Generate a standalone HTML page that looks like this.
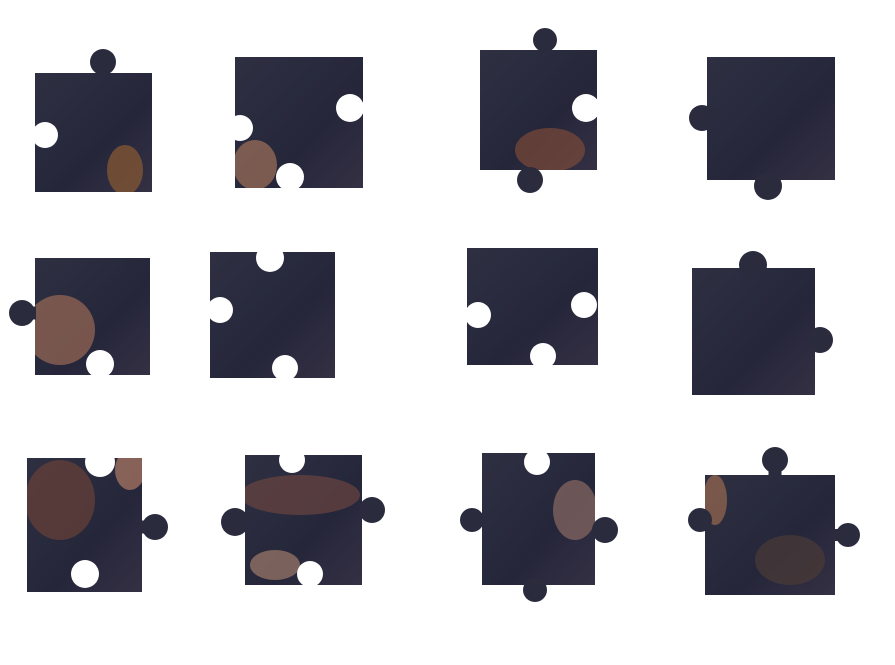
<!DOCTYPE html>
<html><head><meta charset="utf-8"><style>
html,body{margin:0;padding:0;background:#fff;width:895px;height:665px;overflow:hidden}
svg{display:block}
</style></head><body>
<svg width="895" height="665" viewBox="0 0 895 665">
<defs>
<linearGradient id="g" x1="0" y1="0" x2="1" y2="1">
<stop offset="0" stop-color="#2e3042"/><stop offset="0.6" stop-color="#25263a"/><stop offset="1" stop-color="#353044"/>
</linearGradient>
</defs>
<g id="pieces"></g>
</svg>
<script>
const pieces=[
 {r:[35,73,152,192],tabs:[[103,62,13]],blanks:[[45,135,13]],warm:[[125,170,18,25,'#8a5a30']]},
 {r:[235,57,363,188],tabs:[],blanks:[[350,108,14],[240,128,13],[290,177,14]],warm:[[255,165,22,25,'#a0705a']]},
 {r:[480,50,597,170],tabs:[[545,40,12],[530,180,13]],blanks:[[586,108,14]],warm:[[550,150,35,22,'#7a4a38']]},
 {r:[707,57,835,180],tabs:[[702,118,13],[768,186,14]],blanks:[],warm:[]},
 {r:[35,258,150,375],tabs:[[22,313,13]],blanks:[[100,364,14]],warm:[[60,330,35,35,'#9a6a55']]},
 {r:[210,252,335,378],tabs:[],blanks:[[270,258,14],[220,310,13],[285,368,13]],warm:[]},
 {r:[467,248,598,365],tabs:[],blanks:[[478,315,13],[584,305,13],[543,356,13]],warm:[]},
 {r:[692,268,815,395],tabs:[[753,265,14],[820,340,13]],blanks:[],warm:[]},
 {r:[27,458,142,592],tabs:[[155,527,13]],blanks:[[100,462,15],[85,574,14]],warm:[[60,500,35,40,'#6a4038'],[130,470,15,20,'#b07a65']]},
 {r:[245,455,362,585],tabs:[[235,522,14],[372,510,13]],blanks:[[292,460,13],[310,574,13]],warm:[[300,495,60,20,'#6a4540'],[275,565,25,15,'#a07a6a']]},
 {r:[482,453,595,585],tabs:[[472,520,12],[605,530,13],[535,590,12]],blanks:[[537,462,13]],warm:[[575,510,22,30,'#8a6a62']]},
 {r:[705,475,835,595],tabs:[[775,460,13],[700,520,12],[848,535,12]],blanks:[],warm:[[715,500,12,25,'#9a6a50'],[790,560,35,25,'#4a3a36']]}
];
const ns="http://www.w3.org/2000/svg";
const G=document.getElementById('pieces');
const defs=document.querySelector('defs');
pieces.forEach((p,i)=>{
 const cp=document.createElementNS(ns,'clipPath');cp.setAttribute('id','cp'+i);
 const cr=document.createElementNS(ns,'rect');
 cr.setAttribute('x',p.r[0]);cr.setAttribute('y',p.r[1]);cr.setAttribute('width',p.r[2]-p.r[0]);cr.setAttribute('height',p.r[3]-p.r[1]);
 cp.appendChild(cr);defs.appendChild(cp);
 const g=document.createElementNS(ns,'g');
 
 
 const rc=document.createElementNS(ns,'rect');
 rc.setAttribute('x',p.r[0]);rc.setAttribute('y',p.r[1]);
 rc.setAttribute('width',p.r[2]-p.r[0]);rc.setAttribute('height',p.r[3]-p.r[1]);
 rc.setAttribute('fill','url(#g)');
 g.appendChild(rc);
 const wg=document.createElementNS(ns,'g');wg.setAttribute('clip-path','url(#cp'+i+')');
 p.warm.forEach(w=>{const e=document.createElementNS(ns,'ellipse');e.setAttribute('cx',w[0]);e.setAttribute('cy',w[1]);e.setAttribute('rx',w[2]);e.setAttribute('ry',w[3]);e.setAttribute('fill',w[4]);e.setAttribute('opacity','0.7');wg.appendChild(e);});
 g.appendChild(wg);
 p.tabs.forEach(t=>{
  const nk=document.createElementNS(ns,'rect');
  const [x0,y0,x1,y1]=p.r;const [cx,cy,r]=t;
  let nx,ny,nw,nh;
  if(cy<y0){nx=cx-r*0.5;ny=cy;nw=r;nh=y0-cy+1;}
  else if(cy>y1){nx=cx-r*0.5;ny=y1-1;nw=r;nh=cy-y1+1;}
  else if(cx<x0){nx=cx;ny=cy-r*0.5;nw=x0-cx+1;nh=r;}
  else {nx=x1-1;ny=cy-r*0.5;nw=cx-x1+1;nh=r;}
  nk.setAttribute('x',nx);nk.setAttribute('y',ny);nk.setAttribute('width',nw);nk.setAttribute('height',nh);nk.setAttribute('fill','#2a2b3d');g.appendChild(nk);
  const c=document.createElementNS(ns,'circle');c.setAttribute('cx',cx);c.setAttribute('cy',cy);c.setAttribute('r',r);c.setAttribute('fill','#2a2b3d');g.appendChild(c);});
 p.blanks.forEach(t=>{const c=document.createElementNS(ns,'circle');c.setAttribute('cx',t[0]);c.setAttribute('cy',t[1]);c.setAttribute('r',t[2]);c.setAttribute('fill','#ffffff');g.appendChild(c);});
 G.appendChild(g);
});
</script>
</body></html>
